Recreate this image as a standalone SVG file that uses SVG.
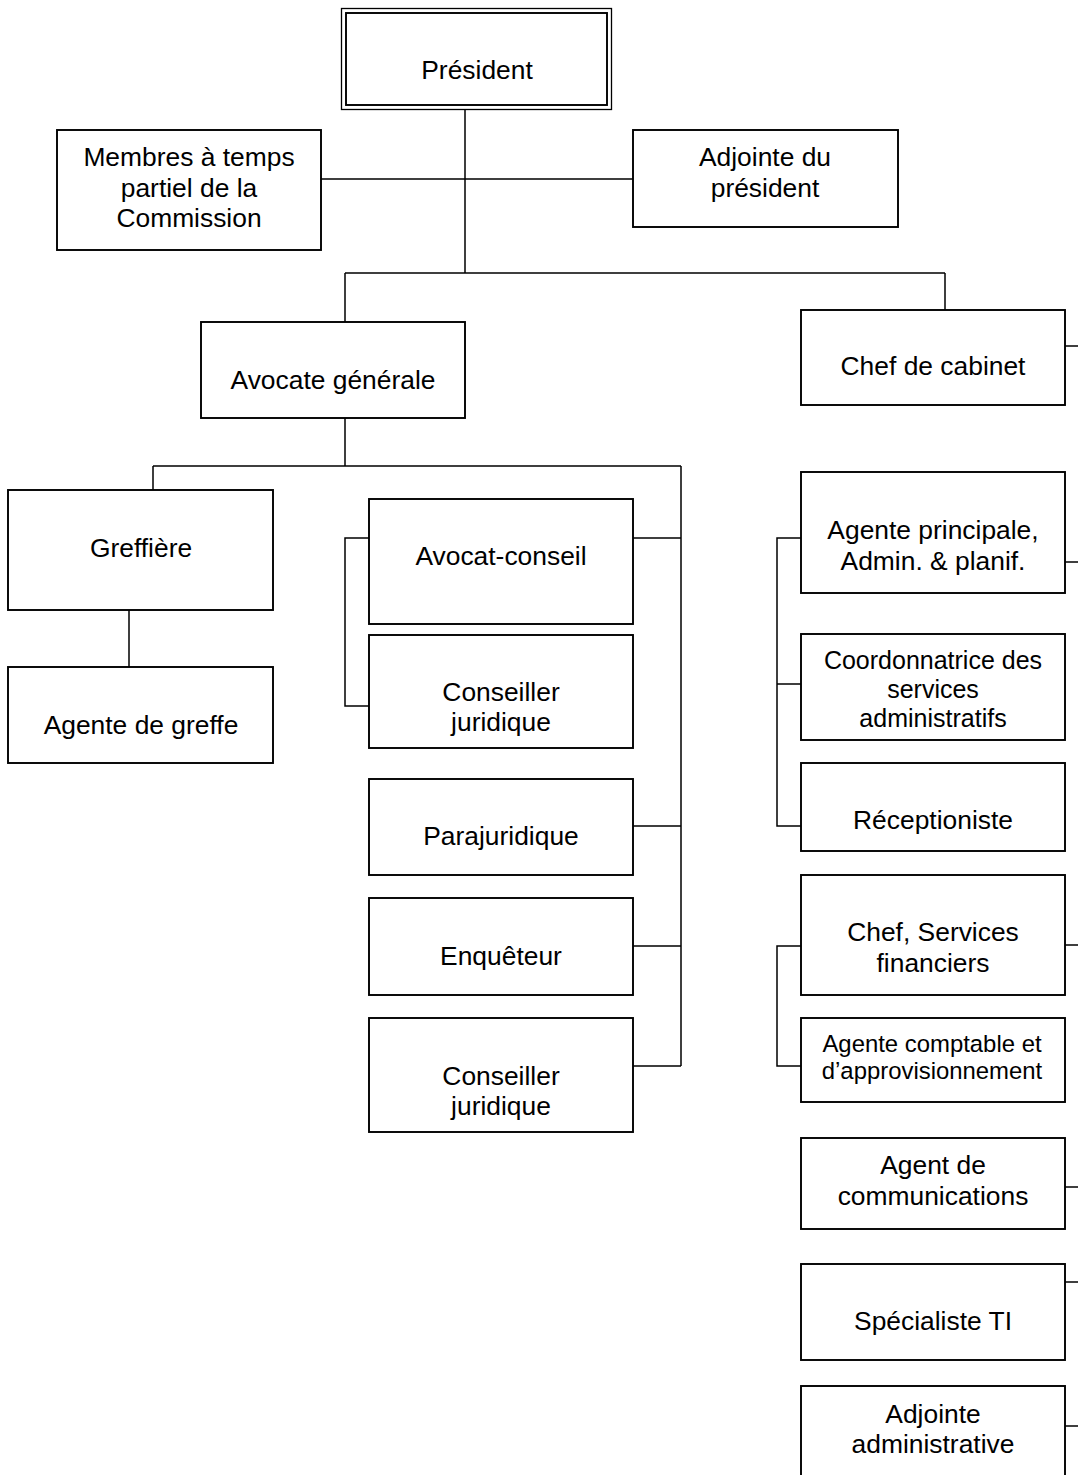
<svg xmlns="http://www.w3.org/2000/svg" width="1078" height="1475" viewBox="0 0 1078 1475">
<style>
.b{fill:#fff;stroke:#000;stroke-width:1.9}
.c{fill:none;stroke:#000;stroke-width:1.5}
text{font-family:"Liberation Sans",Arial,sans-serif;font-size:26.4px;fill:#000;text-anchor:middle}
.s{font-size:25px}
.t{font-size:23.9px}
</style>
<rect width="1078" height="1475" fill="#fff"/>
<g id="connectors">
<path class="c" d="M465 110V273M321 179H633M345 273H945M345 273V322M945 273V310"/>
<path class="c" d="M345 418V466M153 466H681M153 466V490M681 466V1066M129 610V667"/>
<path class="c" d="M633 538H681M633 826H681M633 946H681M633 1066H681"/>
<path class="c" d="M369 538H345V706H369"/>
<path class="c" d="M801 538H777V826H801M777 684H801"/>
<path class="c" d="M801 946H777V1066H801"/>
<path class="c" d="M1065 346H1078M1065 562H1078M1065 945H1078M1065 1187H1078M1065 1282H1078M1065 1426H1078"/>
</g>
<g id="president">
<rect x="341.5" y="8.5" width="270" height="101" fill="#fff" stroke="#000" stroke-width="1.3"/>
<rect x="346" y="13" width="261" height="92" fill="none" stroke="#000" stroke-width="1.9"/>
<text x="477" y="79">Président</text>
</g>
<g id="membres"><rect class="b" x="57" y="130" width="264" height="120"/><text x="189" y="166">Membres à temps</text><text x="189" y="197">partiel de la</text><text x="189" y="227">Commission</text></g>
<g id="adjointe-president"><rect class="b" x="633" y="130" width="265" height="97"/><text x="765" y="166">Adjointe du</text><text x="765" y="197">président</text></g>
<g id="avocate-generale"><rect class="b" x="201" y="322" width="264" height="96"/><text x="333" y="389">Avocate générale</text></g>
<g id="chef-cabinet"><rect class="b" x="801" y="310" width="264" height="95"/><text x="933" y="375">Chef de cabinet</text></g>
<g id="greffiere"><rect class="b" x="8" y="490" width="265" height="120"/><text x="141" y="557">Greffière</text></g>
<g id="agente-greffe"><rect class="b" x="8" y="667" width="265" height="96"/><text x="141" y="734">Agente de greffe</text></g>
<g id="avocat-conseil"><rect class="b" x="369" y="499" width="264" height="125"/><text x="501" y="565">Avocat-conseil</text></g>
<g id="conseiller-juridique-1"><rect class="b" x="369" y="635" width="264" height="113"/><text x="501" y="701">Conseiller</text><text x="501" y="731">juridique</text></g>
<g id="parajuridique"><rect class="b" x="369" y="779" width="264" height="96"/><text x="501" y="845">Parajuridique</text></g>
<g id="enqueteur"><rect class="b" x="369" y="898" width="264" height="97"/><text x="501" y="965">Enquêteur</text></g>
<g id="conseiller-juridique-2"><rect class="b" x="369" y="1018" width="264" height="114"/><text x="501" y="1085">Conseiller</text><text x="501" y="1115">juridique</text></g>
<g id="agente-principale"><rect class="b" x="801" y="472" width="264" height="121"/><text x="933" y="539">Agente principale,</text><text x="933" y="570">Admin. &amp; planif.</text></g>
<g id="coordonnatrice"><rect class="b" x="801" y="634" width="264" height="106"/><text class="s" x="933" y="669">Coordonnatrice des</text><text class="s" x="933" y="698">services</text><text class="s" x="933" y="727">administratifs</text></g>
<g id="receptioniste"><rect class="b" x="801" y="763" width="264" height="88"/><text x="933" y="829">Réceptioniste</text></g>
<g id="chef-services-financiers"><rect class="b" x="801" y="875" width="264" height="120"/><text x="933" y="941">Chef, Services</text><text x="933" y="972">financiers</text></g>
<g id="agente-comptable"><rect class="b" x="801" y="1018" width="264" height="84"/><text class="t" x="932" y="1052">Agente comptable et</text><text class="t" x="932" y="1079">d’approvisionnement</text></g>
<g id="agent-communications"><rect class="b" x="801" y="1138" width="264" height="91"/><text x="933" y="1174">Agent de</text><text x="933" y="1205">communications</text></g>
<g id="specialiste-ti"><rect class="b" x="801" y="1264" width="264" height="96"/><text x="933" y="1330">Spécialiste TI</text></g>
<g id="adjointe-administrative"><rect class="b" x="801" y="1386" width="264" height="100"/><text x="933" y="1423">Adjointe</text><text x="933" y="1453">administrative</text></g>
</svg>
